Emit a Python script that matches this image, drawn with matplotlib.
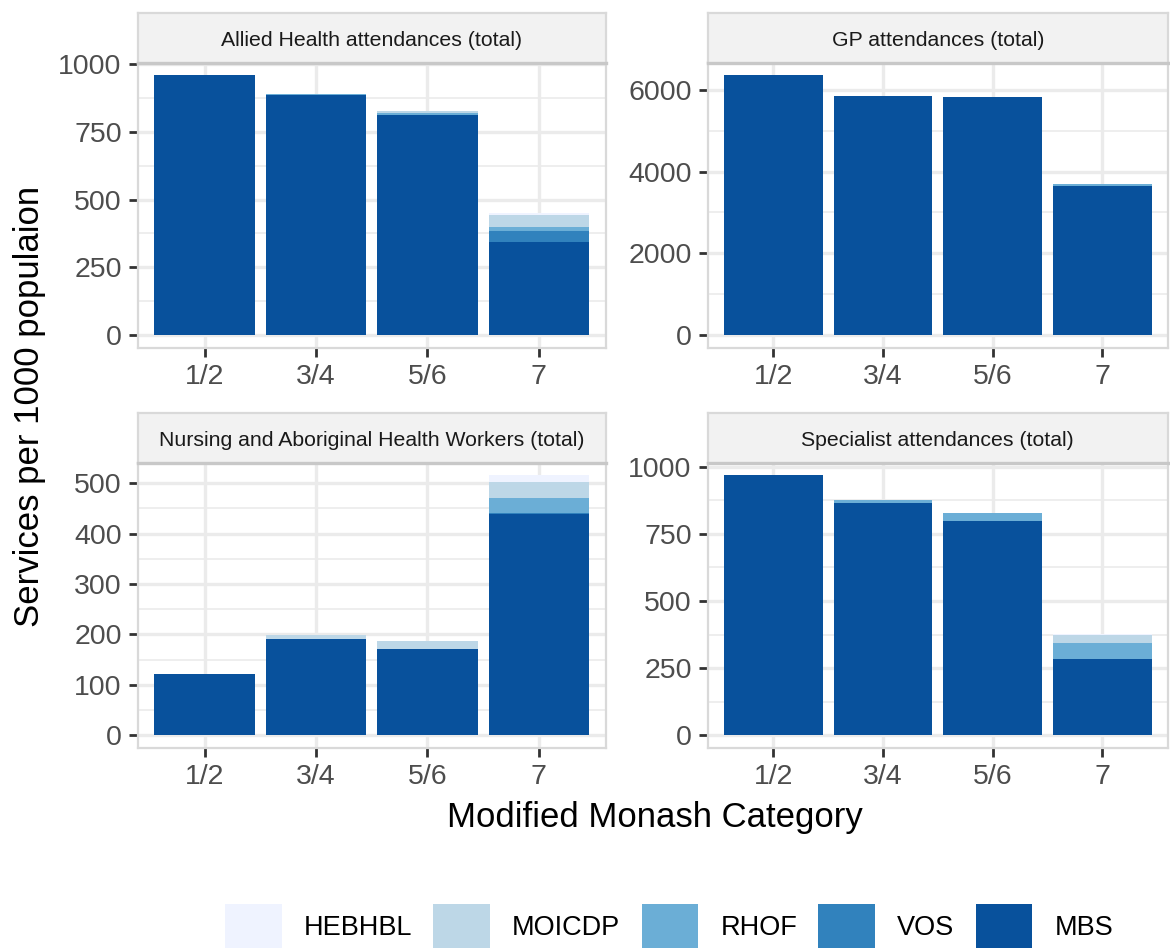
import numpy as np
import matplotlib.pyplot as plt
from matplotlib.patches import Patch

plt.rcParams['font.family'] = ['Liberation Sans', 'DejaVu Sans']

categories = ["1/2", "3/4", "5/6", "7"]
services = ["HEBHBL", "MOICDP", "RHOF", "VOS", "MBS"]
colours = {"HEBHBL": "#EFF3FF", "MOICDP": "#BDD7E7", "RHOF": "#6BAED6",
           "VOS": "#3182BD", "MBS": "#08519C"}

# services per 1000 population, by program and Monash category
allied = {"MBS": [959, 886, 812, 344], "VOS": [0, 0, 0, 40], "RHOF": [0, 3, 8, 15],
          "MOICDP": [0, 3, 8, 43], "HEBHBL": [0, 0, 0, 10]}
gp = {"MBS": [6360, 5850, 5830, 3650], "VOS": [0, 0, 0, 0], "RHOF": [0, 0, 0, 40],
      "MOICDP": [0, 0, 0, 15], "HEBHBL": [0, 0, 0, 0]}
nursing = {"MBS": [122, 191, 171, 439], "VOS": [0, 0, 0, 2], "RHOF": [0, 0, 0, 29],
           "MOICDP": [0, 8, 16, 33], "HEBHBL": [0, 0, 0, 12]}
specialist = {"MBS": [967, 863, 797, 283], "VOS": [0, 0, 0, 0], "RHOF": [0, 13, 32, 60],
              "MOICDP": [0, 0, 0, 31], "HEBHBL": [0, 0, 0, 3]}

panels = [
    ("Allied Health attendances (total)", allied, [0, 250, 500, 750, 1000], 0, 0),
    ("GP attendances (total)", gp, [0, 2000, 4000, 6000], 1, 0),
    ("Nursing and Aboriginal Health Workers (total)", nursing, [0, 100, 200, 300, 400, 500], 0, 1),
    ("Specialist attendances (total)", specialist, [0, 250, 500, 750, 1000], 1, 1),
]

W, H = 1170, 948
col_x = [(137.7, 605.7), (707.7, 1168)]
row_y = [(13.3, 62.5, 347.7), (413.3, 462.5, 748.3)]


def box(x0, y0, x1, y1):
    return [x0 / W, 1 - y1 / H, (x1 - x0) / W, (y1 - y0) / H]


fig = plt.figure(figsize=(W / 100, H / 100), dpi=100)

for title, data, ticks, c, r in panels:
    x0, x1 = col_x[c]
    s0, s1, p1 = row_y[r]
    ax = fig.add_axes(box(x0, s1, x1, p1))
    strip = fig.add_axes(box(x0, s0, x1, s1))

    x = np.arange(1, len(categories) + 1)
    bottom = np.zeros(len(categories))
    for name in ["MBS", "VOS", "RHOF", "MOICDP", "HEBHBL"]:
        vals = np.array(data[name], dtype=float)
        ax.bar(x, vals, 0.9, bottom=bottom, color=colours[name], linewidth=0, zorder=2)
        bottom += vals

    top = bottom.max()
    ax.set_xlim(0.4, 4.6)
    ax.set_ylim(-0.05 * top, 1.05 * top)
    ax.set_xticks(x)
    ax.set_xticklabels(categories)
    ax.set_yticks(ticks)
    step = ticks[1] - ticks[0]
    minor = [t + step / 2 for t in ticks if t + step / 2 < 1.05 * top]
    ax.set_yticks(minor, minor=True)
    ax.set_axisbelow(True)
    ax.grid(which='major', color='#EBEBEB', linewidth=2.4, zorder=0)
    ax.grid(which='minor', axis='y', color='#EBEBEB', linewidth=1.2, zorder=0)
    ax.tick_params(which='major', length=6.5, width=2, color='#333333',
                   labelcolor='#4D4D4D', labelsize=20.5, pad=5)
    ax.tick_params(which='minor', length=0)
    for sp in ax.spines.values():
        sp.set_color('#D9D9D9')
        sp.set_linewidth(1.6)

    strip.set_facecolor('#F2F2F2')
    strip.set_xticks([])
    strip.set_yticks([])
    for sp in strip.spines.values():
        sp.set_color('#D9D9D9')
        sp.set_linewidth(1.6)
    strip.spines['bottom'].set_color('#C8C8C8')
    strip.spines['bottom'].set_linewidth(2.4)
    strip.text(0.5, 0.45, title, ha='center', va='center', fontsize=15.3,
               color='#1A1A1A', transform=strip.transAxes)

fig.text(30 / W, 1 - 406 / H, "Services per 1000 populaion", rotation=90,
         ha='center', va='center', fontsize=25, color='black')
fig.text(655 / W, 1 - 818 / H, "Modified Monash Category",
         ha='center', va='center', fontsize=25, color='black')

handles = [Patch(facecolor=colours[s], edgecolor='none', label=s) for s in services]
fig.legend(handles=handles, loc='center left', bbox_to_anchor=(225 / W, 1 - 926 / H),
           ncol=5, frameon=False, fontsize=19.5, handlelength=2.1, handleheight=2.07,
           handletextpad=0.81, columnspacing=0.78, borderpad=0, borderaxespad=0)

fig.savefig("out.png", dpi=100)
